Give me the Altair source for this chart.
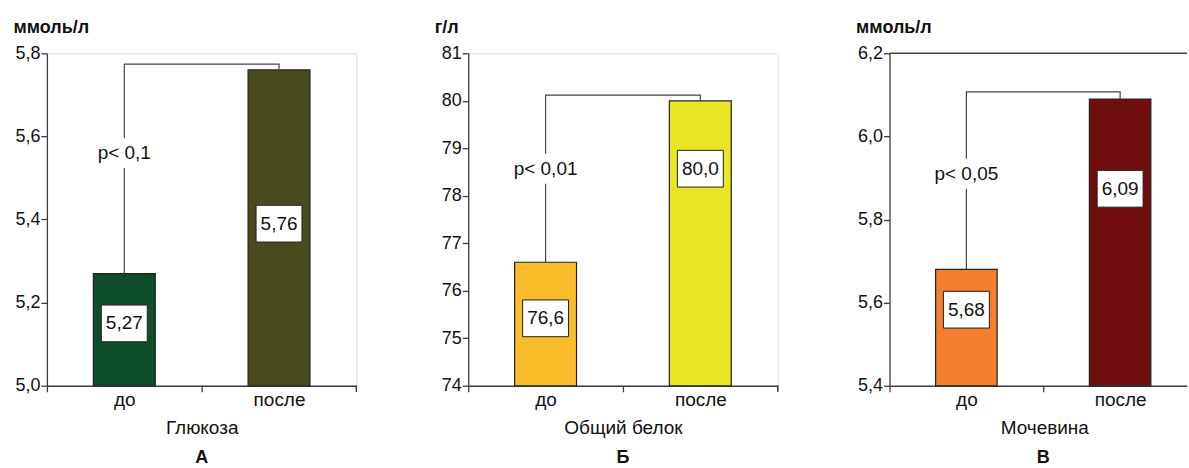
import altair as alt
import pandas as pd

# ---------------- data ----------------
groups = ["до", "после"]
panel_titles = ["Глюкоза", "Общий белок", "Мочевина"]
panel_letters = ["А", "Б", "В"]
units = ["ммоль/л", "г/л", "ммоль/л"]

glucose = [5.27, 5.76]
protein = [76.6, 80.0]
urea = [5.68, 6.09]
series = [glucose, protein, urea]

value_text = [["5,27", "5,76"], ["76,6", "80,0"], ["5,68", "6,09"]]
bar_colors = [["#0e4d29", "#4a4a1f"], ["#fbbc29", "#e8e623"], ["#f37f2c", "#700d0f"]]

y_min = [5.0, 74, 5.4]
y_max = [5.8, 81, 6.2]
y_ticks = [[5.0, 5.2, 5.4, 5.6, 5.8],
           [74, 75, 76, 77, 78, 79, 80, 81],
           [5.4, 5.6, 5.8, 6.0, 6.2]]
y_decimals = [1, 0, 1]

p_text = ["p< 0,1", "p< 0,01", "p< 0,05"]
p_level = [5.56, 78.57, 5.91]
bracket_level = [5.774, 80.12, 6.107]
value_label_level = [[5.15, 5.39], [75.42, 78.57], [5.583, 5.874]]

# ---------------- style ----------------
FONT = "Liberation Sans, Arial, sans-serif"
LINE = "#3c3c3c"
TXT = "#111111"
H = 333


def panel(i, width, clipped):
    ymin, ymax = y_min[i], y_max[i]
    if clipped:
        xscale = alt.Scale(domain=groups, paddingInner=0.6, paddingOuter=0.2675, align=0.5607)
        step = 154
    else:
        xscale = alt.Scale(domain=groups, paddingInner=0.6, paddingOuter=0.3)
        step = width / 2
    xaxis = alt.Axis(
        title=panel_titles[i], titleX=155, titleY=48, titleBaseline="alphabetic",
        titleFontSize=19, titleFontWeight="normal", titleColor=TXT,
        labelFontSize=19, labelPadding=-1, labelColor=TXT, labelAngle=0,
        tickSize=6, tickOffset=-step / 2, labelOffset=step / 2,
        domainColor=LINE, tickColor=LINE, domainWidth=1.3, tickWidth=1.3,
    )
    x = alt.X("grp:N", scale=xscale, axis=xaxis, sort=groups)
    d = y_decimals[i]
    yaxis = alt.Axis(
        title=units[i], titleAngle=0, titleAlign="left", titleBaseline="alphabetic",
        titleX=-34, titleY=-21, titleFontWeight="bold", titleFontSize=18, titleColor=TXT,
        values=y_ticks[i], labelExpr=f"replace(format(datum.value, '.{d}f'), '.', ',')",
        labelFontSize=18, labelPadding=1, labelColor=TXT, tickSize=6, grid=False,
        domainColor=LINE, tickColor=LINE, domainWidth=1.3, tickWidth=1.3,
    )
    yscale = alt.Scale(domain=[ymin, ymax], nice=False, zero=False)

    def Y(field):
        return alt.Y(field + ":Q", scale=yscale, axis=yaxis)

    vals = series[i]
    bars_df = pd.DataFrame({"grp": groups, "val": vals, "base": [ymin, ymin],
                            "color": bar_colors[i]})
    bars = alt.Chart(bars_df).mark_bar(stroke="#222222", strokeWidth=1.2).encode(
        x=x, y=Y("val"), y2=alt.Y2("base"), color=alt.Color("color:N", scale=None))

    br_df = pd.DataFrame({"grp": [groups[0], groups[0], groups[1], groups[1]],
                          "yy": [vals[0], bracket_level[i], bracket_level[i], vals[1]],
                          "ord": [0, 1, 2, 3]})
    bracket = alt.Chart(br_df).mark_line(color="#444444", strokeWidth=1.2).encode(
        x=x, y=Y("yy"), order="ord:Q")

    p_df = pd.DataFrame({"grp": [groups[0]], "yy": [p_level[i]], "txt": [p_text[i]]})
    p_bg = alt.Chart(p_df).mark_point(
        shape="M-1,-0.5L1,-0.5L1,0.5L-1,0.5Z", size=3600, filled=True,
        fill="white", strokeWidth=0, opacity=1).encode(x=x, y=Y("yy"))
    p_lab = alt.Chart(p_df).mark_text(fontSize=19, font=FONT, color=TXT).encode(
        x=x, y=Y("yy"), text="txt:N")

    v_df = pd.DataFrame({"grp": groups, "yy": value_label_level[i], "txt": value_text[i]})
    v_box = alt.Chart(v_df).mark_point(
        shape="M-1,-0.8L1,-0.8L1,0.8L-1,0.8Z", size=46 * 46, filled=True,
        fill="white", stroke="#222222", strokeWidth=1, opacity=1).encode(x=x, y=Y("yy"))
    v_lab = alt.Chart(v_df).mark_text(fontSize=19, font=FONT, color=TXT).encode(
        x=x, y=Y("yy"), text="txt:N")

    layers = [bars, bracket, p_bg, p_lab, v_box, v_lab]
    if clipped:
        top = alt.Chart(bars_df).mark_rule(color=LINE, strokeWidth=1.3).encode(
            x=alt.value(0), x2=alt.value(width), y=alt.value(0))
        layers.append(top)
    else:
        ext = alt.Chart(bars_df).mark_rule(color=LINE, strokeWidth=1.3).encode(
            x=alt.value(width), y=alt.value(H), y2=alt.value(H + 6))
        layers.append(ext)

    ch = alt.layer(*layers).properties(
        width=width, height=H,
        title=alt.TitleParams(panel_letters[i], orient="bottom", fontSize=18,
                              fontWeight="bold", font=FONT, color=TXT, offset=11,
                              anchor="middle", frame="group",
                              dx=(5 if clipped else 0)),
    )
    if clipped:
        ch = ch.properties(view=alt.ViewBackground(stroke="transparent"))
    return ch


chart = alt.hconcat(
    panel(0, 310, False), panel(1, 310, False), panel(2, 298, True),
    spacing=112, bounds="flush",
).resolve_scale(x="independent", y="independent").properties(
    padding={"left": 12, "top": 17, "right": 0, "bottom": 0}
).configure_view(stroke=LINE, strokeWidth=1.3).configure_axis(
    labelFont=FONT, titleFont=FONT
).configure(background="white")

chart.save("out.html", embed_options={"renderer": "svg", "actions": False})
